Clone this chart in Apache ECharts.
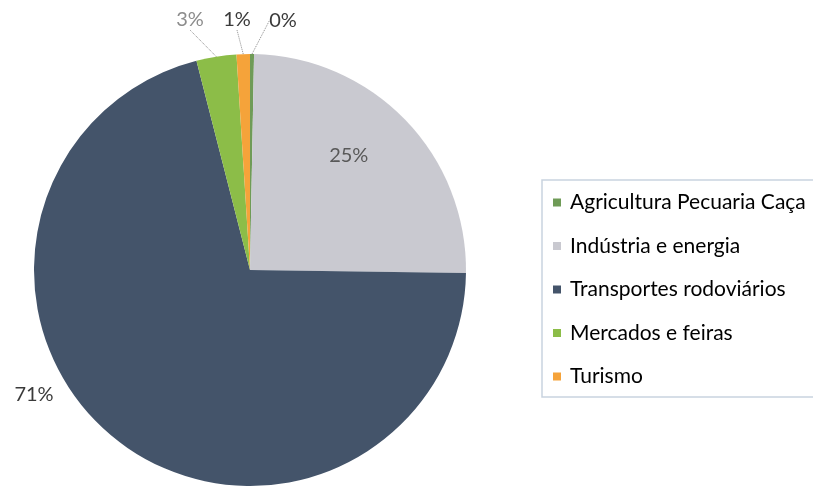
<!DOCTYPE html>
<html>
<head>
<meta charset="utf-8">
<script src="https://cdn.jsdelivr.net/npm/echarts@6/dist/echarts.min.js"></script>
<style>
  html, body { margin: 0; padding: 0; background: #fff; }
  #charts { width: 813px; height: 486px; }
</style>
</head>
<body>
<div id="charts"></div>
<script>
var categories = ['Agricultura Pecuaria Caça', 'Indústria e energia', 'Transportes rodoviários', 'Mercados e feiras', 'Turismo'];
var values = [0.3, 25, 71, 3, 1];
var shownLabels = ['0%', '25%', '71%', '3%', '1%'];
var colors = ['#6f9b57', '#c9c9d0', '#44546a', '#8cbd48', '#f5a33a'];

var chartDom = document.getElementById('charts');
var myChart = echarts.init(chartDom);
var option;

// where each label sits (the reference is an Excel "best fit" layout)
var labelSpots = [
  { x: 283, y: 21, color: '#3a3a3a' },
  null,
  { x: 34, y: 395, color: '#3a3a3a' },
  { x: 190, y: 20, color: '#8c8c8c' },
  { x: 237, y: 20, color: '#3a3a3a' }
];

var pieData = categories.map(function (name, i) {
  var item = {
    name: name,
    value: values[i],
    itemStyle: { color: colors[i] }
  };
  if (i === 1) {
    item.label = { position: 'inside', color: '#595959' };
  } else {
    item.label = { position: 'outside', color: labelSpots[i].color };
    item.labelLine = { show: i !== 2 };
  }
  return item;
});

option = {
  backgroundColor: '#ffffff',
  animation: false,
  legend: {
    orient: 'vertical',
    left: 542,
    top: 180,
    data: categories,
    icon: 'rect',
    itemWidth: 8,
    itemHeight: 8,
    itemGap: 22.5,
    padding: [12, 80, 10, 11],
    borderColor: '#c9d3df',
    borderWidth: 1.5,
    textStyle: {
      fontFamily: 'Lato',
      fontSize: 21,
      color: '#000000',
      lineHeight: 21,
      padding: [0, 0, 0, 4]
    }
  },
  series: [
    {
      type: 'pie',
      center: [250, 270],
      radius: 216,
      startAngle: 90,
      clockwise: true,
      avoidLabelOverlap: false,
      data: pieData,
      label: {
        show: true,
        fontFamily: 'Lato',
        fontSize: 20,
        formatter: function (p) { return shownLabels[p.dataIndex]; }
      },
      labelLine: {
        length: 10,
        length2: 0,
        lineStyle: { color: '#8c8c8c', width: 1, type: 'dotted' }
      },
      labelLayout: function (params) {
        var s = labelSpots[params.dataIndex];
        if (!s) {
          return { dx: 19, dy: -37 };
        }
        return { x: s.x, y: s.y, align: 'center', verticalAlign: 'middle' };
      },
      emphasis: { disabled: true }
    }
  ]
};

option && myChart.setOption(option);
</script>
</body>
</html>
